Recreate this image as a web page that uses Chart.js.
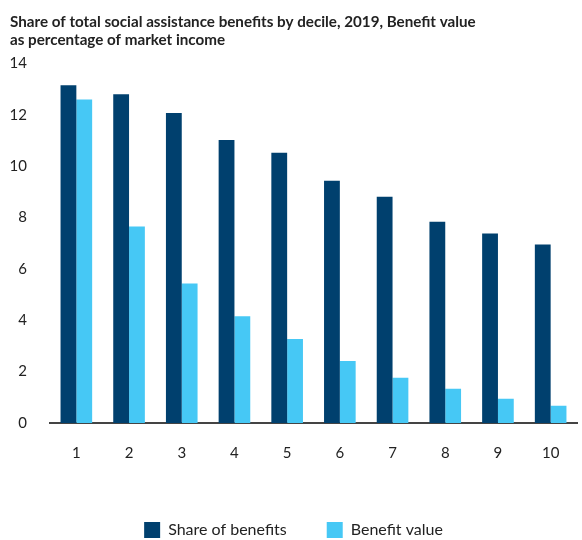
<!DOCTYPE html>
<html>
<head>
<meta charset="utf-8">
<script src="https://cdn.jsdelivr.net/npm/chart.js@4.4.1/dist/chart.umd.min.js"></script>
<style>
  html, body { margin: 0; padding: 0; background: #fff; }
  #wrap { width: 582px; height: 540px; }
</style>
</head>
<body>
<div id="wrap"><canvas id="chart" width="582" height="540"></canvas></div>
<script>
// deciles
const deciles = ['1', '2', '3', '4', '5', '6', '7', '8', '9', '10'];
// share of total social assistance benefits (%)
const shareOfBenefits = [13.15, 12.8, 12.07, 11.02, 10.52, 9.43, 8.81, 7.84, 7.38, 6.95];
// benefit value as % of market income
const benefitValue = [12.6, 7.65, 5.43, 4.16, 3.27, 2.41, 1.76, 1.33, 0.94, 0.67];

const titleLines = [
  'Share of total social assistance benefits by decile, 2019, Benefit value',
  'as percentage of market income'
];

const fontFamily = 'Lato, "Open Sans", sans-serif';
const textColor = '#222';

const ctx = document.getElementById('chart');
new Chart(ctx, {
  type: 'bar',
  data: {
    labels: deciles,
    datasets: [
      {
        label: 'Share of benefits',
        data: shareOfBenefits,
        backgroundColor: '#00406e',
        barPercentage: 1,
        categoryPercentage: 0.6
      },
      {
        label: 'Benefit value',
        data: benefitValue,
        backgroundColor: '#46c8f5',
        barPercentage: 1,
        categoryPercentage: 0.6
      }
    ]
  },
  options: {
    responsive: false,
    animation: false,
    layout: {
      padding: { left: 10, right: 5, top: 0, bottom: -8 }
    },
    plugins: {
      title: {
        display: true,
        text: titleLines,
        align: 'start',
        color: textColor,
        font: { family: fontFamily, size: 15.2, weight: 'bold', lineHeight: 1.2 },
        padding: { top: 13, bottom: 14 }
      },
      legend: {
        position: 'bottom',
        labels: {
          boxWidth: 16,
          boxHeight: 16,
          padding: 40,
          color: textColor,
          font: { family: fontFamily, size: 16 }
        }
      },
      tooltip: { enabled: false }
    },
    scales: {
      x: {
        grid: { display: false },
        border: { display: true, color: '#444', width: 2 },
        ticks: {
          color: textColor,
          padding: 13,
          font: { family: fontFamily, size: 15 }
        },
        // extra room between the decile labels and the legend
        afterFit: (scale) => { scale.height += 7; }
      },
      y: {
        min: 0,
        max: 14,
        grid: { display: false, drawTicks: false },
        border: { display: false },
        ticks: {
          stepSize: 2,
          color: textColor,
          padding: 23,
          font: { family: fontFamily, size: 15 }
        },
        afterFit: (scale) => { scale.width = 40; }
      }
    }
  }
});
</script>
</body>
</html>
